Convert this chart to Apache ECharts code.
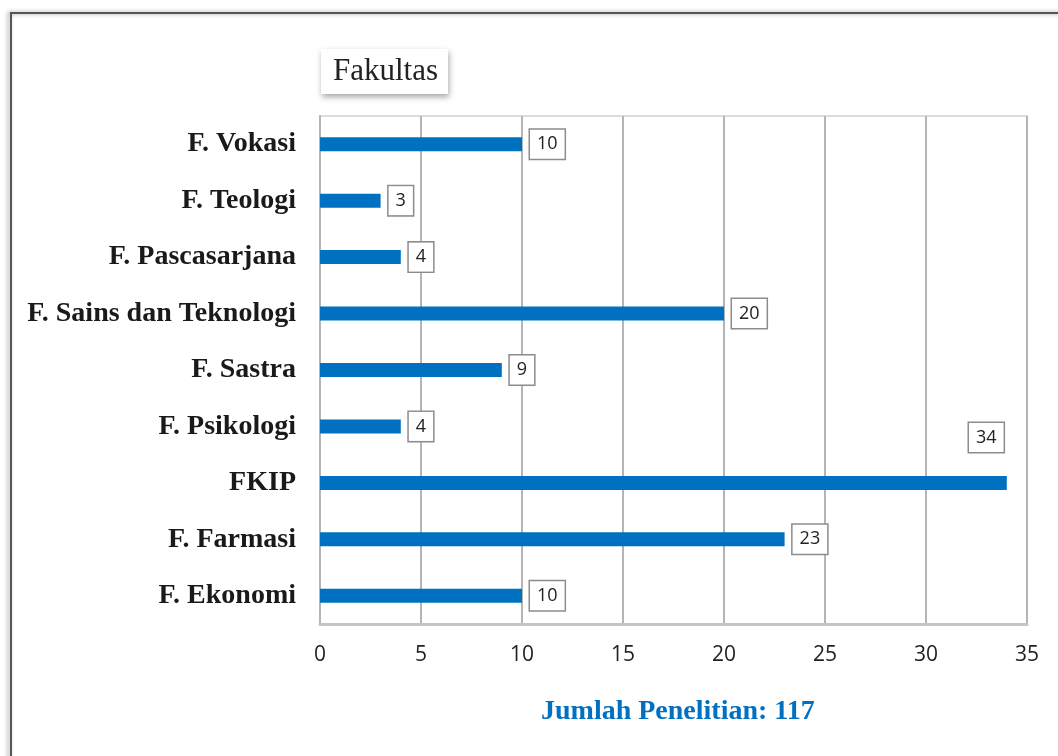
<!DOCTYPE html>
<html>
<head>
<meta charset="utf-8">
<script src="https://cdn.jsdelivr.net/npm/echarts@6/dist/echarts.min.js"></script>
<style>
html, body { margin: 0; padding: 0; background: #fff; }
#chart { width: 1058px; height: 756px; }
</style>
</head>
<body>
<div id="chart"></div>
<script>
// urutan dari atas ke bawah
var categories = ['F. Vokasi', 'F. Teologi', 'F. Pascasarjana', 'F. Sains dan Teknologi',
	'F. Sastra', 'F. Psikologi', 'FKIP', 'F. Farmasi', 'F. Ekonomi'];
var values = [10, 3, 4, 20, 9, 4, 34, 23, 10];
var xTicks = [0, 5, 10, 15, 20, 25, 30, 35];
var totalText = 'Jumlah Penelitian: 117';

var chart = echarts.init(document.getElementById('chart'));

var barData = [];
for (var i = 0; i < values.length; i++) {
	var item = { value: values[i] };
	if (values[i] == 34) { // label terlalu panjang, taruh di atas batang
		item.label = { position: [649, -53] };
	}
	barData.push(item);
}

var option = {
	backgroundColor: '#fff',
	animation: false,
	title: {
		text: 'Fakultas',
		left: 321,
		top: 49,
		padding: [7, 10, 7, 12],
		backgroundColor: '#fff',
		shadowBlur: 6,
		shadowColor: 'rgba(0,0,0,0.35)',
		shadowOffsetX: 1,
		shadowOffsetY: 3,
		textStyle: {
			fontFamily: 'Liberation Serif',
			fontWeight: 'normal',
			fontSize: 31,
			color: '#222'
		}
	},
	grid: {
		left: 320,
		right: 31,
		top: 116,
		bottom: 132,
		show: true,
		borderColor: '#dcdcdc',
		borderWidth: 2
	},
	xAxis: {
		type: 'value',
		min: xTicks[0],
		max: xTicks[xTicks.length - 1],
		interval: 5,
		axisLine: { show: true, lineStyle: { color: '#c4c4c4', width: 3 } },
		axisTick: { show: false },
		splitLine: { show: true, lineStyle: { color: '#b5b5b5', width: 2 } },
		axisLabel: {
			margin: 21,
			fontFamily: 'Open Sans',
			fontSize: 21,
			color: '#222'
		}
	},
	yAxis: {
		type: 'category',
		data: categories,
		inverse: true,
		axisLine: { show: true, lineStyle: { color: '#b5b5b5', width: 2 } },
		axisTick: { show: false },
		axisLabel: {
			margin: 24,
			fontFamily: 'Liberation Serif',
			fontWeight: 'bold',
			fontSize: 28,
			color: '#1a1a1a'
		}
	},
	series: [{
		type: 'bar',
		data: barData,
		barWidth: 14,
		itemStyle: { color: '#0070C0' },
		label: {
			show: true,
			position: 'right',
			distance: 8,
			borderColor: '#8c8c8c',
			borderWidth: 1.5,
			backgroundColor: '#fff',
			padding: [6, 7, 5, 7],
			fontFamily: 'Open Sans',
			fontSize: 18,
			color: '#222'
		}
	}],
	graphic: [{
		type: 'rect',
		shape: { x: 11, y: 13, width: 1100, height: 800 },
		style: {
			fill: 'none',
			stroke: '#555',
			lineWidth: 2,
			shadowBlur: 4,
			shadowColor: 'rgba(0,0,0,0.4)',
			shadowOffsetX: -2
		},
		silent: true
	}, {
		type: 'text',
		left: 541,
		top: 698,
		style: {
			text: totalText,
			fontFamily: 'Liberation Serif',
			fontWeight: 'bold',
			fontSize: 28,
			fill: '#0070C0'
		}
	}]
};

chart.setOption(option);
</script>
</body>
</html>
